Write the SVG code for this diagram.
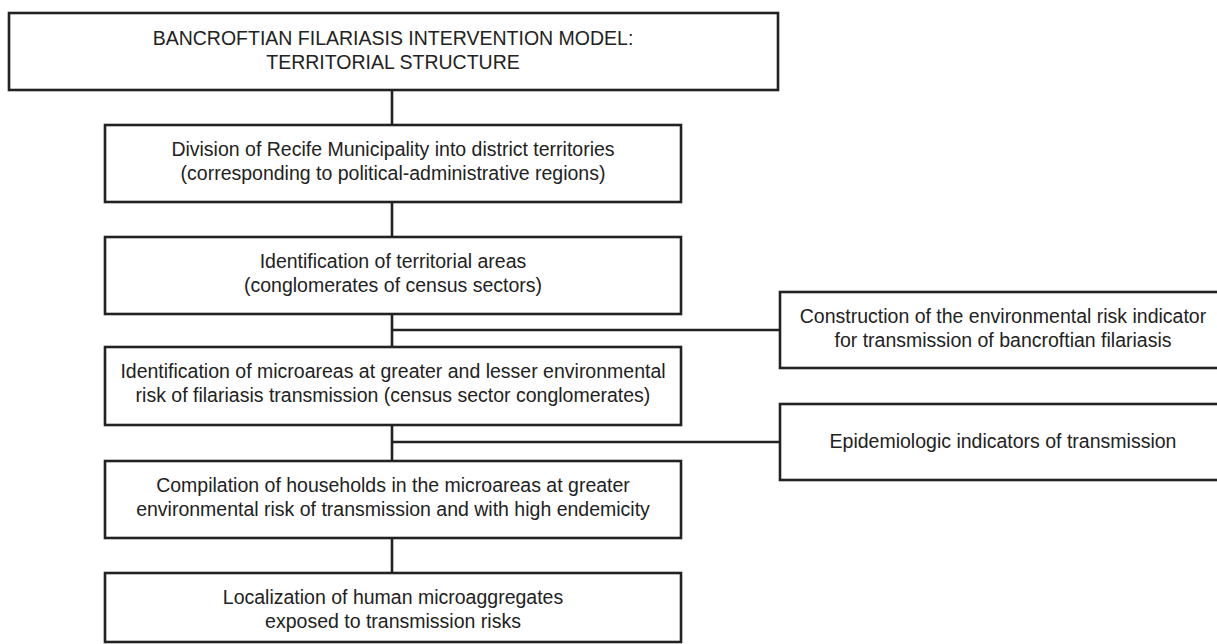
<svg xmlns="http://www.w3.org/2000/svg" width="1217" height="644" viewBox="0 0 1217 644">
<style>
.box{fill:#fff;stroke:#222;stroke-width:2.6}
.conn{stroke:#222;stroke-width:2.6;fill:none}
text{font-family:"Liberation Sans",Arial,Helvetica,sans-serif;font-size:19.5px;fill:#222;text-anchor:middle}
</style>
<rect width="1217" height="644" fill="#fff"/>
<g id="connectors">
<line class="conn" x1="392" y1="90" x2="392" y2="125"/>
<line class="conn" x1="392" y1="202" x2="392" y2="237"/>
<line class="conn" x1="392" y1="314" x2="392" y2="347"/>
<line class="conn" x1="392" y1="330" x2="780" y2="330"/>
<line class="conn" x1="392" y1="425" x2="392" y2="461"/>
<line class="conn" x1="392" y1="442" x2="780" y2="442"/>
<line class="conn" x1="392" y1="538" x2="392" y2="573"/>
</g>
<g id="title">
<rect class="box" x="9" y="13" width="769" height="77"/>
<text x="393" y="45">BANCROFTIAN FILARIASIS INTERVENTION MODEL:</text>
<text x="393" y="69">TERRITORIAL STRUCTURE</text>
</g>
<g id="division">
<rect class="box" x="105" y="125" width="576" height="77"/>
<text x="393" y="156">Division of Recife Municipality into district territories</text>
<text x="393" y="180">(corresponding to political-administrative regions)</text>
</g>
<g id="territorial">
<rect class="box" x="105" y="237" width="576" height="77"/>
<text x="393" y="268">Identification of territorial areas</text>
<text x="393" y="292">(conglomerates of census sectors)</text>
</g>
<g id="microareas">
<rect class="box" x="105" y="347" width="576" height="78"/>
<text x="393" y="378">Identification of microareas at greater and lesser environmental</text>
<text x="393" y="402">risk of filariasis transmission (census sector conglomerates)</text>
</g>
<g id="households">
<rect class="box" x="105" y="461" width="576" height="77"/>
<text x="393" y="492">Compilation of households in the microareas at greater</text>
<text x="393" y="516">environmental risk of transmission and with high endemicity</text>
</g>
<g id="localization">
<rect class="box" x="105" y="573" width="576" height="69"/>
<text x="393" y="604">Localization of human microaggregates</text>
<text x="393" y="628">exposed to transmission risks</text>
</g>
<g id="risk-indicator">
<rect class="box" x="780" y="292" width="446" height="76"/>
<text x="1003" y="323">Construction of the environmental risk indicator</text>
<text x="1003" y="347">for transmission of bancroftian filariasis</text>
</g>
<g id="epidemiologic">
<rect class="box" x="780" y="404" width="446" height="76"/>
<text x="1003" y="448">Epidemiologic indicators of transmission</text>
</g>
</svg>
